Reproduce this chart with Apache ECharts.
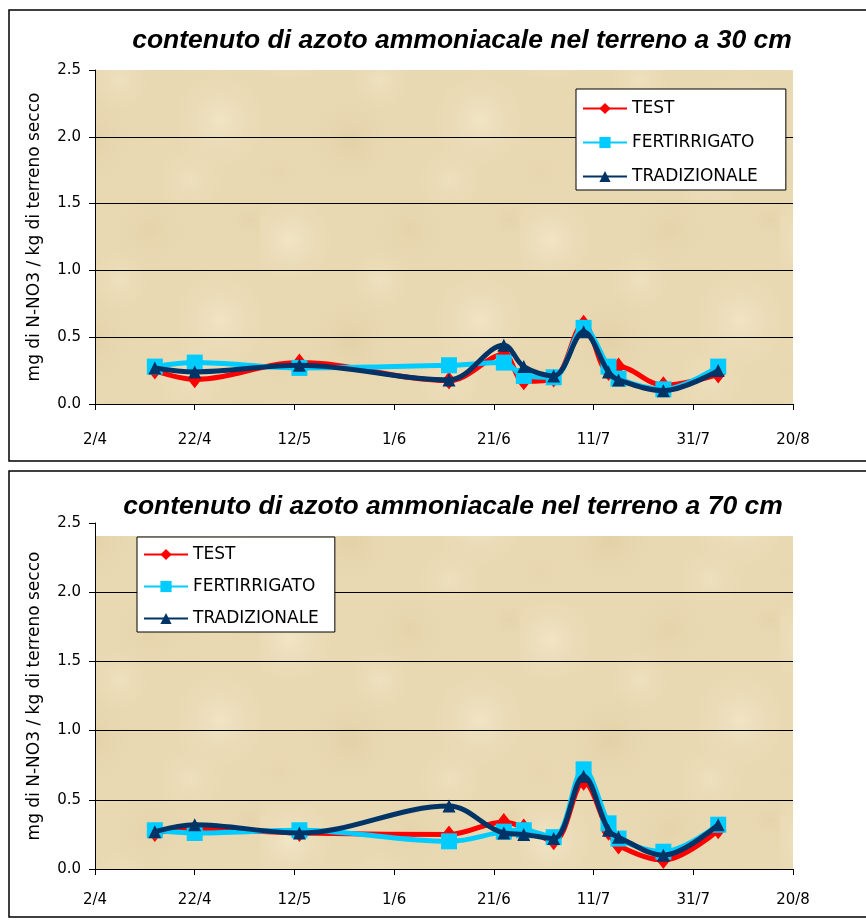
<!DOCTYPE html>
<html>
<head>
<meta charset="utf-8">
<script src="https://cdn.jsdelivr.net/npm/echarts@6/dist/echarts.min.js"></script>
<style>
html,body{margin:0;padding:0;background:#fff;}
#chart{width:866px;height:920px;}
</style>
</head>
<body>
<div id="chart"></div>
<script>
// ---- data ----
const sampleDates = ['14/4','22/4','13/5','12/6','23/6','27/6','3/7','9/7','14/7','16/7','25/7','5/8'];
const xTickLabels = ['2/4','22/4','12/5','1/6','21/6','11/7','31/7','20/8'];
const seriesNames = ['TEST','FERTIRRIGATO','TRADIZIONALE'];

const test30  = [0.25, 0.185, 0.31, 0.175, 0.37, 0.17, 0.19, 0.60, 0.24, 0.28, 0.14, 0.22];
const fert30  = [0.28, 0.31, 0.27, 0.29, 0.31, 0.21, 0.20, 0.57, 0.28, 0.19, 0.11, 0.28];
const trad30  = [0.27, 0.24, 0.29, 0.18, 0.44, 0.28, 0.21, 0.54, 0.24, 0.18, 0.10, 0.25];

const test70  = [0.26, 0.29, 0.26, 0.25, 0.34, 0.30, 0.20, 0.63, 0.27, 0.17, 0.065, 0.28];
const fert70  = [0.28, 0.26, 0.28, 0.20, 0.27, 0.28, 0.23, 0.72, 0.33, 0.22, 0.125, 0.32];
const trad70  = [0.27, 0.32, 0.26, 0.455, 0.26, 0.25, 0.22, 0.67, 0.28, 0.23, 0.10, 0.32];

const title30 = 'contenuto di azoto ammoniacale nel terreno a 30 cm';
const title70 = 'contenuto di azoto ammoniacale nel terreno a 70 cm';
const yAxisName = 'mg di N-NO3 / kg di terreno secco';

// ---- helpers ----
function dayOffset(s){
  const [d,m] = s.split('/').map(Number);
  return (Date.UTC(2000,m-1,d) - Date.UTC(2000,3,2)) / 86400000;
}
function pairs(vals){ return sampleDates.map((d,i)=>[dayOffset(d), vals[i]]); }

// texture pattern (decorative background)
function makeTexture(){
  const c = document.createElement('canvas');
  c.width = 260; c.height = 200;
  const g = c.getContext('2d');
  g.fillStyle = '#e9d9b3';
  g.fillRect(0,0,260,200);
  const spots = [
    [30,40,50,'rgba(246,238,212,0.6)'],[150,30,60,'rgba(222,203,155,0.35)'],
    [220,120,55,'rgba(246,238,212,0.55)'],[90,140,60,'rgba(216,195,145,0.35)'],
    [190,180,40,'rgba(242,231,200,0.5)'],[20,170,35,'rgba(226,207,163,0.35)'],
    [120,80,35,'rgba(244,234,204,0.5)'],[250,20,30,'rgba(220,200,152,0.3)']
  ];
  spots.forEach(([x,y,r,col])=>{
    const rg = g.createRadialGradient(x,y,0,x,y,r);
    rg.addColorStop(0,col); rg.addColorStop(1,'rgba(233,217,179,0)');
    g.fillStyle = rg; g.fillRect(0,0,260,200);
  });
  return c;
}
const tex = makeTexture();

const colors = ['#ff0000','#00ccff','#003366'];
const symbols = ['diamond','rect','triangle'];
const symSizes = [[14,18],16,13];

const axisFont = 'DejaVu Sans';

function mkSeries(name, idx, vals, gi){
  return {
    name: name, type: 'line', xAxisIndex: gi, yAxisIndex: gi,
    data: pairs(vals), smooth: 0.35,
    symbol: symbols[idx], symbolSize: symSizes[idx],
    lineStyle: {width: 5, color: colors[idx]},
    itemStyle: {color: colors[idx]},
    z: 3 + idx
  };
}

function mkX(gi, margin){
  return {
    type: 'value', gridIndex: gi, min: 0, max: 140, interval: 20,
    axisLine: {show: true, lineStyle: {color: '#000', width: 1}},
    axisTick: {show: true, inside: false, length: 6, lineStyle: {color: '#000'}},
    axisLabel: {margin: margin, color: '#000', fontFamily: axisFont, fontSize: 15,
      formatter: v => xTickLabels[Math.round(v/20)]},
    splitLine: {show: false}
  };
}
function mkY(gi){
  return {
    type: 'value', gridIndex: gi, min: 0, max: 2.5, interval: 0.5,
    name: yAxisName, nameLocation: 'middle', nameGap: 52, nameRotate: 90,
    nameTextStyle: {color: '#000', fontFamily: axisFont, fontSize: 17},
    axisLine: {show: true, lineStyle: {color: '#000', width: 1}},
    axisTick: {show: true, inside: false, length: 6, lineStyle: {color: '#000'}},
    axisLabel: {margin: 14, color: '#000', fontFamily: axisFont, fontSize: 15,
      formatter: v => v.toFixed(1)},
    splitLine: {show: true, showMaxLine: false, lineStyle: {color: '#000', width: 1}}
  };
}
function mkLegend(left, top, padding, gap){
  return {
    data: seriesNames, orient: 'vertical', left: left, top: top,
    backgroundColor: '#fff', borderColor: '#000', borderWidth: 1, borderRadius: 0,
    padding: padding, itemWidth: 44, itemHeight: 14, itemGap: gap,
    textStyle: {color: '#000', fontFamily: axisFont, fontSize: 17},
    selectedMode: false
  };
}

const chart = echarts.init(document.getElementById('chart'), null, {renderer: 'canvas'});
chart.setOption({
  animation: false,
  backgroundColor: '#fff',
  grid: [
    {left: 95, top: 70, width: 698, height: 334},
    {left: 95, top: 523, width: 698, height: 346}
  ],
  xAxis: [mkX(0, 29), mkX(1, 24)],
  yAxis: [mkY(0), mkY(1)],
  legend: [mkLegend(576, 89, [11, 28, 5, 6], 17), mkLegend(137, 537, [9, 16, 5, 6], 15)],
  graphic: [
    {type: 'rect', z: -10, silent: true, shape: {x: 9, y: 10, width: 870, height: 451},
      style: {fill: 'none', stroke: '#000', lineWidth: 1.5}},
    {type: 'rect', z: -10, silent: true, shape: {x: 9, y: 471, width: 870, height: 446},
      style: {fill: 'none', stroke: '#000', lineWidth: 1.5}},
    {type: 'rect', z: -5, silent: true, shape: {x: 95, y: 70, width: 698, height: 334},
      style: {fill: {image: tex, repeat: 'repeat'}}},
    {type: 'rect', z: -5, silent: true, shape: {x: 95, y: 536, width: 698, height: 333},
      style: {fill: {image: tex, repeat: 'repeat'}}},
    {type: 'text', silent: true, style: {text: title30, x: 462, y: 41, align: 'center', verticalAlign: 'middle',
      font: 'italic bold 26.5px "Liberation Sans", Arial, sans-serif', fill: '#000'}},
    {type: 'text', silent: true, style: {text: title70, x: 453, y: 507, align: 'center', verticalAlign: 'middle',
      font: 'italic bold 26.5px "Liberation Sans", Arial, sans-serif', fill: '#000'}}
  ],
  series: [
    mkSeries('TEST', 0, test30, 0),
    mkSeries('FERTIRRIGATO', 1, fert30, 0),
    mkSeries('TRADIZIONALE', 2, trad30, 0),
    mkSeries('TEST', 0, test70, 1),
    mkSeries('FERTIRRIGATO', 1, fert70, 1),
    mkSeries('TRADIZIONALE', 2, trad70, 1)
  ]
});
</script>
</body>
</html>
